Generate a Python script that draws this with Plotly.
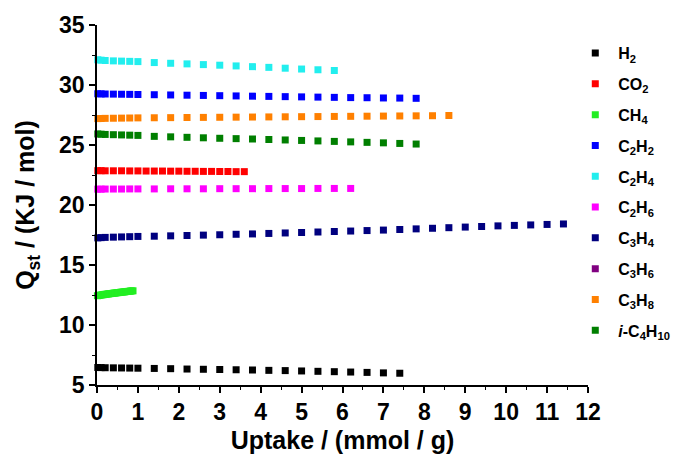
import plotly.graph_objects as go

# ---------------- data ----------------
names = ["H<sub>2</sub>", "CO<sub>2</sub>", "CH<sub>4</sub>", "C<sub>2</sub>H<sub>2</sub>",
         "C<sub>2</sub>H<sub>4</sub>", "C<sub>2</sub>H<sub>6</sub>", "C<sub>3</sub>H<sub>4</sub>",
         "C<sub>3</sub>H<sub>6</sub>", "C<sub>3</sub>H<sub>8</sub>", "<i>i</i>-C<sub>4</sub>H<sub>10</sub>"]
colors = ["#000000", "#ff0000", "#22ee22", "#0000ff", "#22eeee", "#ff00ff", "#00007f",
          "#800080", "#ff8000", "#007f00"]

h2_x = [0.02, 0.1, 0.2, 0.4, 0.6, 0.8, 1.0, 1.4, 1.8, 2.2, 2.6, 3.0, 3.4, 3.8, 4.2, 4.6,
        5.0, 5.4, 5.8, 6.2, 6.6, 7.0, 7.4]
h2_y = [6.46, 6.45, 6.44, 6.43, 6.42, 6.41, 6.40, 6.38, 6.36, 6.33, 6.31, 6.29, 6.27, 6.25,
        6.22, 6.20, 6.17, 6.14, 6.11, 6.08, 6.05, 6.01, 5.98]

co2_x = [0.02, 0.1, 0.2, 0.4, 0.6, 0.8, 1.0, 1.2, 1.4, 1.6, 1.8, 2.0, 2.2, 2.4, 2.6, 2.8,
         3.0, 3.2, 3.4, 3.6]
co2_y = [22.86, 22.86, 22.85, 22.85, 22.85, 22.84, 22.84, 22.83, 22.83, 22.83, 22.82, 22.82,
         22.81, 22.81, 22.80, 22.80, 22.79, 22.79, 22.78, 22.78]

ch4_x = [0.01, 0.04, 0.07, 0.10, 0.13, 0.16, 0.19, 0.22, 0.25, 0.28, 0.31, 0.34, 0.37, 0.40,
         0.43, 0.46, 0.49, 0.52, 0.55, 0.58, 0.61, 0.64, 0.67, 0.70, 0.73, 0.76, 0.79, 0.82,
         0.85, 0.88]
ch4_y = [12.44, 12.46, 12.48, 12.50, 12.52, 12.53, 12.55, 12.56, 12.58, 12.59, 12.61, 12.62,
         12.63, 12.65, 12.66, 12.67, 12.69, 12.70, 12.71, 12.73, 12.74, 12.75, 12.76, 12.78,
         12.79, 12.80, 12.81, 12.83, 12.84, 12.85]

c2h2_x = [0.02, 0.1, 0.2, 0.4, 0.6, 0.8, 1.0, 1.4, 1.8, 2.2, 2.6, 3.0, 3.4, 3.8, 4.2, 4.6,
          5.0, 5.4, 5.8, 6.2, 6.6, 7.0, 7.4, 7.8]
c2h2_y = [29.27, 29.26, 29.25, 29.24, 29.23, 29.22, 29.21, 29.19, 29.17, 29.15, 29.13, 29.11,
          29.09, 29.07, 29.05, 29.03, 29.01, 28.99, 28.97, 28.95, 28.94, 28.92, 28.91, 28.89]

c2h4_x = [0.02, 0.1, 0.2, 0.4, 0.6, 0.8, 1.0, 1.4, 1.8, 2.2, 2.6, 3.0, 3.4, 3.8, 4.2, 4.6,
          5.0, 5.4, 5.8]
c2h4_y = [32.10, 32.07, 32.04, 32.01, 31.99, 31.97, 31.95, 31.87, 31.81, 31.76, 31.70, 31.65,
          31.59, 31.53, 31.47, 31.40, 31.33, 31.27, 31.21]

c2h6_x = [0.02, 0.1, 0.2, 0.4, 0.6, 0.8, 1.0, 1.4, 1.8, 2.2, 2.6, 3.0, 3.4, 3.8, 4.2, 4.6,
          5.0, 5.4, 5.8, 6.2]
c2h6_y = [21.32, 21.32, 21.33, 21.33, 21.33, 21.34, 21.34, 21.34, 21.35, 21.35, 21.35, 21.36,
          21.36, 21.36, 21.37, 21.37, 21.37, 21.38, 21.38, 21.38]

c3h4_x = [0.02, 0.1, 0.2, 0.4, 0.6, 0.8, 1.0, 1.4, 1.8, 2.2, 2.6, 3.0, 3.4, 3.8, 4.2, 4.6,
          5.0, 5.4, 5.8, 6.2, 6.6, 7.0, 7.4, 7.8, 8.2, 8.6, 9.0, 9.4, 9.8, 10.2, 10.6, 11.0, 11.4]
c3h4_y = [17.26, 17.28, 17.30, 17.32, 17.34, 17.36, 17.38, 17.40, 17.43, 17.46, 17.49, 17.52,
          17.56, 17.59, 17.63, 17.67, 17.71, 17.75, 17.79, 17.83, 17.87, 17.91, 17.96, 18.01,
          18.06, 18.11, 18.16, 18.21, 18.26, 18.30, 18.34, 18.38, 18.42]

c3h6_x = []   # listed in the legend only; no points drawn in the reference
c3h6_y = []

c3h8_x = [0.02, 0.1, 0.2, 0.4, 0.6, 0.8, 1.0, 1.4, 1.8, 2.2, 2.6, 3.0, 3.4, 3.8, 4.2, 4.6,
          5.0, 5.4, 5.8, 6.2, 6.6, 7.0, 7.4, 7.8, 8.2, 8.6]
c3h8_y = [27.20, 27.21, 27.22, 27.23, 27.24, 27.25, 27.26, 27.27, 27.28, 27.29, 27.30, 27.31,
          27.32, 27.33, 27.34, 27.35, 27.36, 27.37, 27.38, 27.39, 27.40, 27.41, 27.42, 27.43,
          27.44, 27.46]

ic4h10_x = [0.02, 0.1, 0.2, 0.4, 0.6, 0.8, 1.0, 1.4, 1.8, 2.2, 2.6, 3.0, 3.4, 3.8, 4.2, 4.6,
            5.0, 5.4, 5.8, 6.2, 6.6, 7.0, 7.4, 7.8]
ic4h10_y = [25.92, 25.90, 25.88, 25.86, 25.84, 25.82, 25.80, 25.72, 25.68, 25.64, 25.60, 25.56,
            25.53, 25.50, 25.46, 25.42, 25.38, 25.34, 25.30, 25.26, 25.22, 25.18, 25.13, 25.08]

xs = [h2_x, co2_x, ch4_x, c2h2_x, c2h4_x, c2h6_x, c3h4_x, c3h6_x, c3h8_x, ic4h10_x]
ys = [h2_y, co2_y, ch4_y, c2h2_y, c2h4_y, c2h6_y, c3h4_y, c3h6_y, c3h8_y, ic4h10_y]

x_ticks = list(range(0, 13))
y_ticks = [5, 10, 15, 20, 25, 30, 35]

FONT = "Arial, 'Liberation Sans', sans-serif"

fig = go.Figure()
for i, (n, c, x, y) in enumerate(zip(names, colors, xs, ys)):
    fig.add_trace(go.Scatter(
        x=x if x else [None], y=y if y else [None],
        mode="markers", name=n, legendgroup=f"g{i}", showlegend=True,
        marker=dict(symbol="square", size=7, color=c, line=dict(width=0)),
        cliponaxis=False,
    ))

axis_common = dict(
    showline=True, linecolor="black", linewidth=1.6, mirror=False,
    showgrid=False, zeroline=False, automargin=False,
    ticks="outside", ticklen=6, tickwidth=1.6, tickcolor="black",
    tickfont=dict(family=FONT, size=23, color="black", weight="bold"),
)

fig.update_xaxes(
    range=[0, 12], tickvals=x_ticks, ticktext=[str(v) for v in x_ticks],
    minor=dict(ticks="outside", ticklen=3.5, tickwidth=1.4, tickcolor="black", dtick=0.5, tick0=0),
    title=dict(text="Uptake / (mmol / g)", font=dict(family=FONT, size=25, color="black", weight="bold"),
               standoff=7),
    **axis_common,
)
fig.update_yaxes(
    range=[5, 35], tickvals=y_ticks, ticktext=[str(v) for v in y_ticks],
    minor=dict(ticks="outside", ticklen=3.5, tickwidth=1.4, tickcolor="black", dtick=2.5, tick0=0),
    title=dict(text="Q<sub>st</sub> / (KJ / mol)", font=dict(family=FONT, size=25, color="black", weight="bold"),
               standoff=17),
    **axis_common,
)

fig.update_layout(
    width=681, height=462,
    margin=dict(l=89, r=101, t=17, b=85),
    plot_bgcolor="white", paper_bgcolor="white",
    font=dict(family=FONT, color="black", weight="bold"),
    showlegend=True,
    legend=dict(
        x=0.968, y=0.969, xanchor="left", yanchor="top",
        font=dict(family=FONT, size=16, color="black", weight="bold"),
        tracegroupgap=7, itemwidth=36, bgcolor="rgba(0,0,0,0)", borderwidth=0,
    ),
)

fig.write_html("out.html")
